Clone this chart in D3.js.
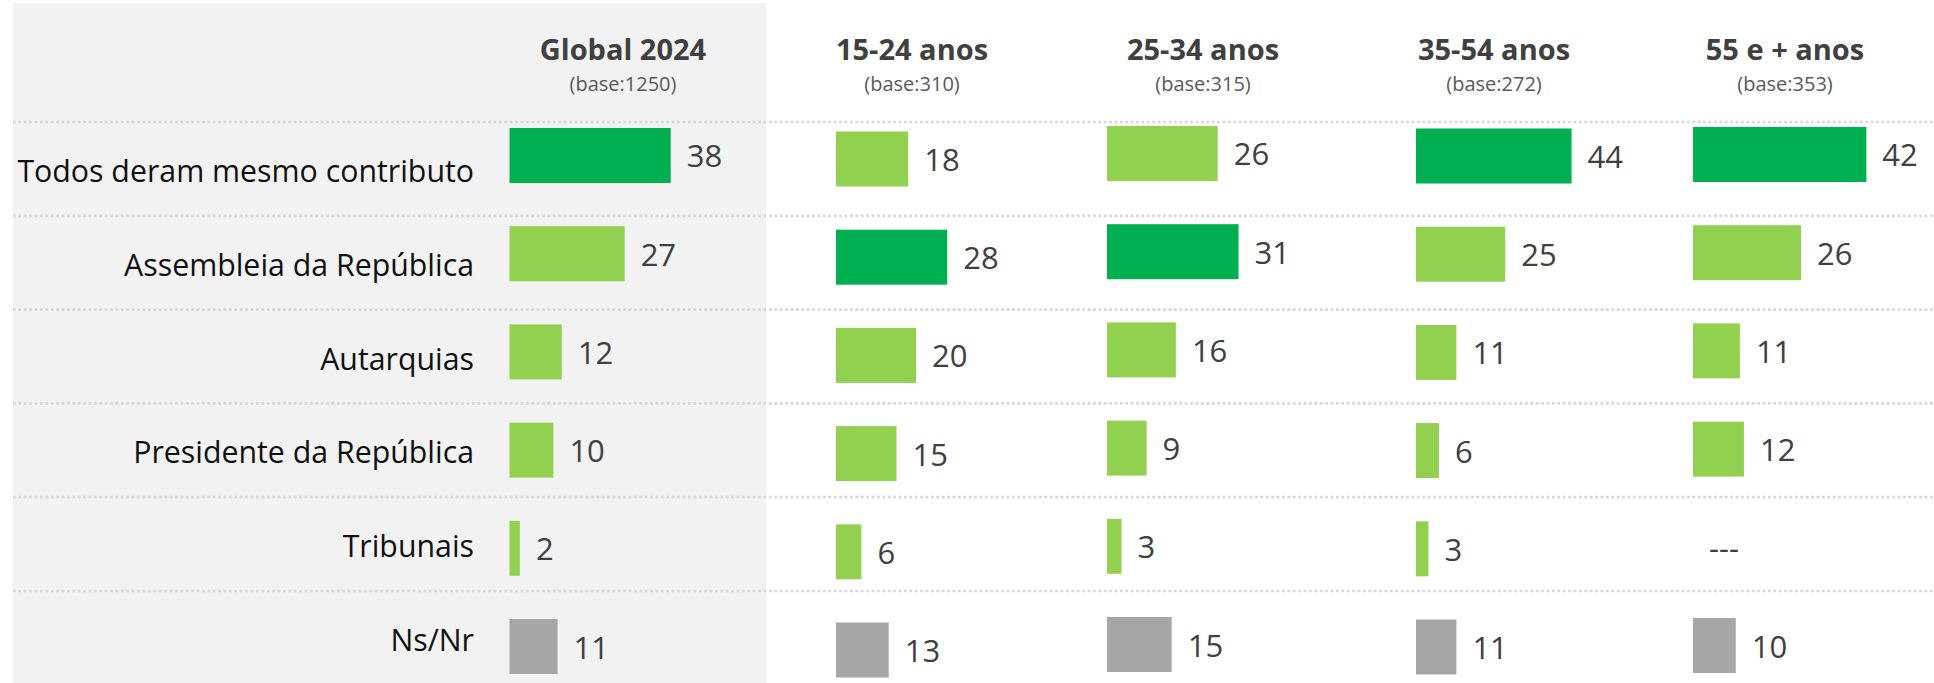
<!DOCTYPE html>
<html>
<head>
<meta charset="utf-8">
<script src="https://cdn.jsdelivr.net/npm/d3@7"></script>
<style>
  body { margin: 0; background: #fff; }
  svg { display: block; font-family: "Open Sans", sans-serif; }
</style>
</head>
<body>
<svg></svg>
<script>
// Categories (rows) and groups (columns)
var categories = ["Todos deram mesmo contributo", "Assembleia da República", "Autarquias",
  "Presidente da República", "Tribunais", "Ns/Nr"];
var groups = ["Global 2024", "15-24 anos", "25-34 anos", "35-54 anos", "55 e + anos"];
var bases = ["(base:1250)", "(base:310)", "(base:315)", "(base:272)", "(base:353)"];

// Values per group, same order as categories (null = no answer, shown as ---)
var global2024 = [38, 27, 12, 10, 2, 11];
var age1524 = [18, 28, 20, 15, 6, 13];
var age2534 = [26, 31, 16, 9, 3, 15];
var age3554 = [44, 25, 11, 6, 3, 11];
var age55 = [42, 26, 11, 12, null, 10];
var series = [global2024, age1524, age2534, age3554, age55];

// Layout of each column (start of bars, header centre, px per point, small vertical shift)
var colBarX = [509.5, 836, 1107, 1416, 1693];
var headerX = [623, 912, 1203, 1494, 1785];
var pxPerPoint = [4.19, 3.9, 4.18, 3.49, 4.08];
var colDy = [0, 3.5, -2, 0.5, -1];

var svgWidth = 1934, svgHeight = 683;

var svg = d3.select("svg")
  .attr("width", svgWidth)
  .attr("height", svgHeight);

// Grey panel behind the labels and the global column
svg.append("rect")
  .attr("x", 13).attr("y", 3)
  .attr("width", 753).attr("height", svgHeight - 3)
  .attr("fill", "#f2f2f2");

// Row bands (separators + category labels)
var rowScale = d3.scaleBand()
  .domain(categories)
  .range([122, 122 + 6 * 93.8]);

// Bar bands
var barScale = d3.scaleBand()
  .domain(categories)
  .range([128, 128 + 5 * 98.2 + 55])
  .paddingInner(0.44)
  .paddingOuter(0);

// Dotted separators
svg.selectAll(".sep")
  .data(categories)
  .enter()
  .append("line")
  .attr("class", "sep")
  .attr("x1", 13).attr("x2", svgWidth)
  .attr("y1", function(d) { return rowScale(d); })
  .attr("y2", function(d) { return rowScale(d); })
  .attr("stroke", "#d6d6d6")
  .attr("stroke-width", 2.7)
  .attr("stroke-dasharray", "2.7,2.7");

// Category labels
svg.selectAll(".cat")
  .data(categories)
  .enter()
  .append("text")
  .attr("class", "cat")
  .attr("x", 474)
  .attr("y", function(d) { return rowScale(d) + 60; })
  .attr("text-anchor", "end")
  .attr("font-size", 30.3)
  .attr("fill", "#111")
  .text(function(d) { return d; });

// Column headers
svg.selectAll(".head")
  .data(groups)
  .enter()
  .append("text")
  .attr("class", "head")
  .attr("x", function(d, i) { return headerX[i]; })
  .attr("y", 60)
  .attr("text-anchor", "middle")
  .attr("font-size", 29)
  .attr("font-weight", "bold")
  .attr("fill", "#404040")
  .text(function(d) { return d; });

svg.selectAll(".base")
  .data(bases)
  .enter()
  .append("text")
  .attr("class", "base")
  .attr("x", function(d, i) { return headerX[i]; })
  .attr("y", 91)
  .attr("text-anchor", "middle")
  .attr("font-size", 20)
  .attr("fill", "#595959")
  .text(function(d) { return d; });

// One group of bars per column
series.forEach(function(values, c) {
  var xScale = d3.scaleLinear()
    .domain([0, 100])
    .range([2, 2 + pxPerPoint[c] * 100]);

  // Highest answer (excluding Ns/Nr) is dark green
  var top = d3.max(values.slice(0, 5));

  var rows = categories.map(function(cat, i) { return {cat: cat, v: values[i], i: i}; });

  var g = svg.append("g")
    .attr("transform", "translate(" + colBarX[c] + "," + colDy[c] + ")");

  g.selectAll("rect")
    .data(rows.filter(function(d) { return d.v != null; }))
    .enter()
    .append("rect")
    .attr("x", 0)
    .attr("y", function(d) { return barScale(d.cat); })
    .attr("width", function(d) { return xScale(d.v); })
    .attr("height", barScale.bandwidth())
    .attr("fill", function(d) {
      if (d.cat === "Ns/Nr") return "#a6a6a6";
      return d.v === top ? "#00b050" : "#92d050";
    });

  g.selectAll(".val")
    .data(rows)
    .enter()
    .append("text")
    .attr("class", "val")
    .attr("x", function(d) { return (d.v == null ? 0 : xScale(d.v)) + 16; })
    .attr("y", function(d) { return barScale(d.cat) + barScale.bandwidth() / 2 + 12; })
    .attr("font-size", 31)
    .attr("fill", "#404040")
    .text(function(d) { return d.v == null ? "---" : d.v; });
});
</script>
</body>
</html>
